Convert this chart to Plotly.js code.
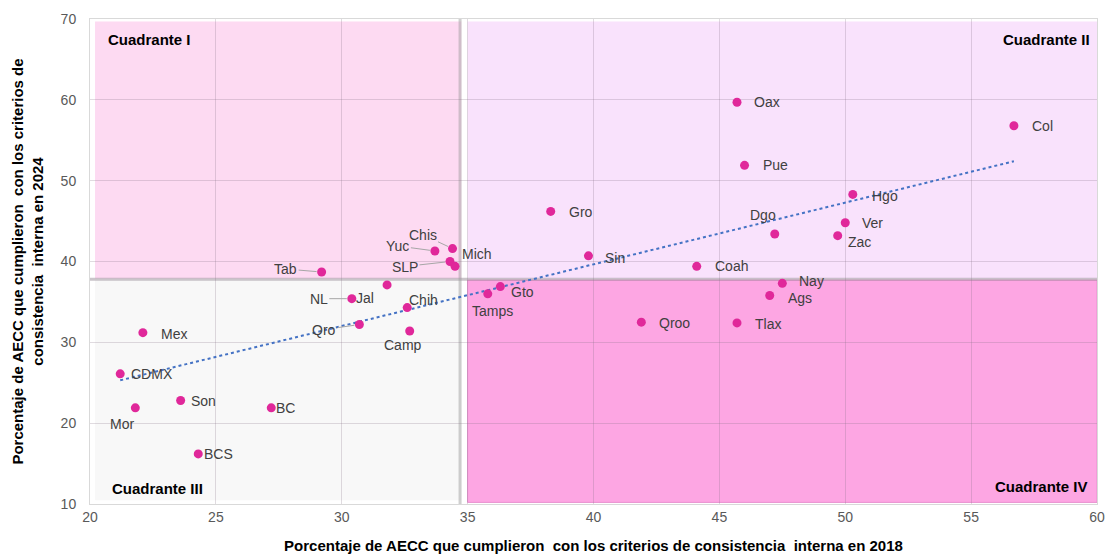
<!DOCTYPE html>
<html>
<head>
<meta charset="utf-8">
<script src="https://cdn.plot.ly/plotly-3.0.1.min.js"></script>
<style>html,body{margin:0;padding:0;background:#fff;}#chart{width:1106px;height:554px;}</style>
</head>
<body>
<div id="chart"></div>
<script>
// ---- Data ----
const states = ["Oax","Col","Pue","Hgo","Ver","Zac","Dgo","Gro","Sin","Coah","Chis","Yuc","SLP","Mich","Tab","NL","Jal","Chih","Qro","Camp","Tamps","Gto","Qroo","Tlax","Ags","Nay","Mex","CDMX","Mor","Son","BC","BCS"];
const pct2018 = [45.7,56.7,46.0,50.3,50.0,49.7,47.2,38.3,39.8,44.1,34.4,33.7,34.3,34.5,29.2,30.4,31.8,32.6,30.7,32.7,35.8,36.3,41.9,45.7,47.0,47.5,22.1,21.2,21.8,23.6,27.2,24.3];
const pct2024 = [59.7,56.8,51.9,48.3,44.8,43.2,43.4,46.2,40.7,39.4,41.6,41.3,40.0,39.4,38.7,35.4,37.1,34.3,32.2,31.4,36.0,36.9,32.5,32.4,35.8,37.3,31.2,26.1,21.9,22.8,21.9,16.2];
// Linear trendline endpoints
const trendX = [21.2, 56.7];
const trendY = [25.3, 52.4];
const xTicks = [20,25,30,35,40,45,50,55,60];
const yTicks = [10,20,30,40,50,60,70];
const quadrantNames = ["Cuadrante I","Cuadrante II","Cuadrante III","Cuadrante IV"];
const xTitle = "Porcentaje de AECC que cumplieron  con los criterios de consistencia  interna en 2018";
const yTitle = "Porcentaje de AECC que cumplieron  con los criterios de<br>consistencia  interna en 2024";

// ---- Label placement (pixel offsets; style only) ----
const labelPos = {
  Oax:{dx:15,dy:0}, Col:{dx:16,dy:0}, Pue:{dx:16,dy:0}, Hgo:{dx:17,dy:2}, Ver:{dx:15,dy:0},
  Zac:{dx:8,dy:6}, Dgo:{dx:-12,dy:-19,c:1}, Gro:{dx:16,dy:1}, Sin:{dx:15,dy:2}, Coah:{dx:16,dy:0},
  Chis:{dx:-30,dy:-14,lead:1}, Yuc:{dx:-37,dy:-5,lead:1}, SLP:{dx:-45,dy:5,lead:1}, Mich:{dx:5,dy:-12},
  Tab:{dx:-36,dy:-3,lead:1}, NL:{dx:-33,dy:0,lead:1}, Jal:{dx:-22,dy:13,c:1}, Chih:{dx:0,dy:-8},
  Qro:{dx:-35,dy:5,lead:1}, Camp:{dx:-7,dy:14,c:1}, Tamps:{dx:5,dy:17,c:1}, Gto:{dx:9,dy:5},
  Qroo:{dx:16,dy:1}, Tlax:{dx:16,dy:1}, Ags:{dx:16,dy:3}, Nay:{dx:15,dy:-2}, Mex:{dx:16,dy:1},
  CDMX:{dx:9,dy:0}, Mor:{dx:-13,dy:16,c:1}, Son:{dx:8,dy:0}, BC:{dx:3,dy:0}, BCS:{dx:4,dy:0}
};

const FONT = "'Liberation Sans', Arial, sans-serif";
const labelColor = "#404040";

const traces = [
  {
    x: trendX, y: trendY, mode: "lines", type: "scatter",
    line: {color: "#4472C4", width: 2, dash: "dot"}, hoverinfo: "skip", showlegend: false
  },
  {
    x: pct2018, y: pct2024, text: states, mode: "markers", type: "scatter",
    marker: {color: "#E0289A", size: 9}, showlegend: false
  }
];

const annotations = [];
states.forEach((s, i) => {
  const p = labelPos[s];
  const base = {x: pct2018[i], y: pct2024[i], xref: "x", yref: "y", text: s,
    font: {family: FONT, size: 14, color: labelColor}};
  if (p.lead) {
    annotations.push(Object.assign(base, {showarrow: true, arrowhead: 0, arrowwidth: 1,
      arrowcolor: "#a6a6a6", ax: p.dx, ay: p.dy, standoff: 5}));
  } else if (p.c) {
    annotations.push(Object.assign(base, {showarrow: false, xanchor: "center", yanchor: "middle",
      xshift: p.dx, yshift: -p.dy}));
  } else {
    annotations.push(Object.assign(base, {showarrow: false, xanchor: "left", yanchor: "middle",
      xshift: p.dx, yshift: -p.dy}));
  }
});
const qFont = {family: FONT, size: 15, color: "#000"};
annotations.push({xref:"paper",yref:"paper",x:0,y:1,xanchor:"left",yanchor:"middle",xshift:16,yshift:-20,showarrow:false,text:"<b>"+quadrantNames[0]+"</b>",font:qFont});
annotations.push({xref:"paper",yref:"paper",x:1,y:1,xanchor:"right",yanchor:"middle",xshift:-5,yshift:-20,showarrow:false,text:"<b>"+quadrantNames[1]+"</b>",font:qFont});
annotations.push({xref:"paper",yref:"paper",x:0,y:0,xanchor:"left",yanchor:"middle",xshift:20,yshift:16,showarrow:false,text:"<b>"+quadrantNames[2]+"</b>",font:qFont});
annotations.push({xref:"paper",yref:"paper",x:1,y:0,xanchor:"right",yanchor:"middle",xshift:-7,yshift:18,showarrow:false,text:"<b>"+quadrantNames[3]+"</b>",font:qFont});

const shapes = [
  {type:"rect",xref:"x",yref:"y",x0:20.2,x1:34.75,y0:37.9,y1:69.7,fillcolor:"#FDDAF2",line:{width:0},layer:"below"},
  {type:"rect",xref:"x",yref:"y",x0:35.0,x1:60.0,y0:37.9,y1:69.7,fillcolor:"#F9E2FC",line:{width:0},layer:"below"},
  {type:"rect",xref:"x",yref:"y",x0:20.2,x1:34.75,y0:10.45,y1:37.7,fillcolor:"#F8F8F8",line:{width:0},layer:"below"},
  {type:"rect",xref:"x",yref:"y",x0:35.0,x1:60.0,y0:10.2,y1:37.7,fillcolor:"#FDA6E3",line:{color:"#E98FCF",width:1},layer:"below"},
  {type:"line",xref:"x",yref:"y",x0:20,x1:60,y0:37.8,y1:37.8,line:{color:"rgba(150,140,150,0.5)",width:3},layer:"below"},
  {type:"line",xref:"x",yref:"y",x0:34.7,x1:34.7,y0:10,y1:70,line:{color:"rgba(150,150,150,0.45)",width:3},layer:"below"}
];

const layout = {
  width: 1106, height: 554,
  margin: {l: 90, r: 9, t: 19, b: 50},
  paper_bgcolor: "#fff", plot_bgcolor: "#fff",
  font: {family: FONT, size: 14, color: "#595959"},
  showlegend: false,
  xaxis: {
    range: [20, 60], tickvals: xTicks, ticktext: xTicks.map(String),
    showgrid: true, gridcolor: "rgba(130,110,130,0.25)", gridwidth: 1,
    zeroline: false, showline: true, mirror: true, linecolor: "#d9d9d9", linewidth: 1,
    ticks: "", tickfont: {size: 14, color: "#595959"},
    title: {text: "<b>" + xTitle + "</b>", font: {size: 15, color: "#000"}, standoff: 16}
  },
  yaxis: {
    range: [10, 70], tickvals: yTicks, ticktext: yTicks.map(String),
    showgrid: true, gridcolor: "rgba(130,110,130,0.25)", gridwidth: 1,
    zeroline: false, showline: true, mirror: true, linecolor: "#d9d9d9", linewidth: 1,
    ticks: "", ticklabelstandoff: 10, tickfont: {size: 14, color: "#595959"},
    title: {text: "<b>" + yTitle + "</b>", font: {size: 15, color: "#000"}, standoff: 13}
  },
  shapes: shapes,
  annotations: annotations
};

Plotly.newPlot("chart", traces, layout, {displayModeBar: false, staticPlot: true});
</script>
</body>
</html>
